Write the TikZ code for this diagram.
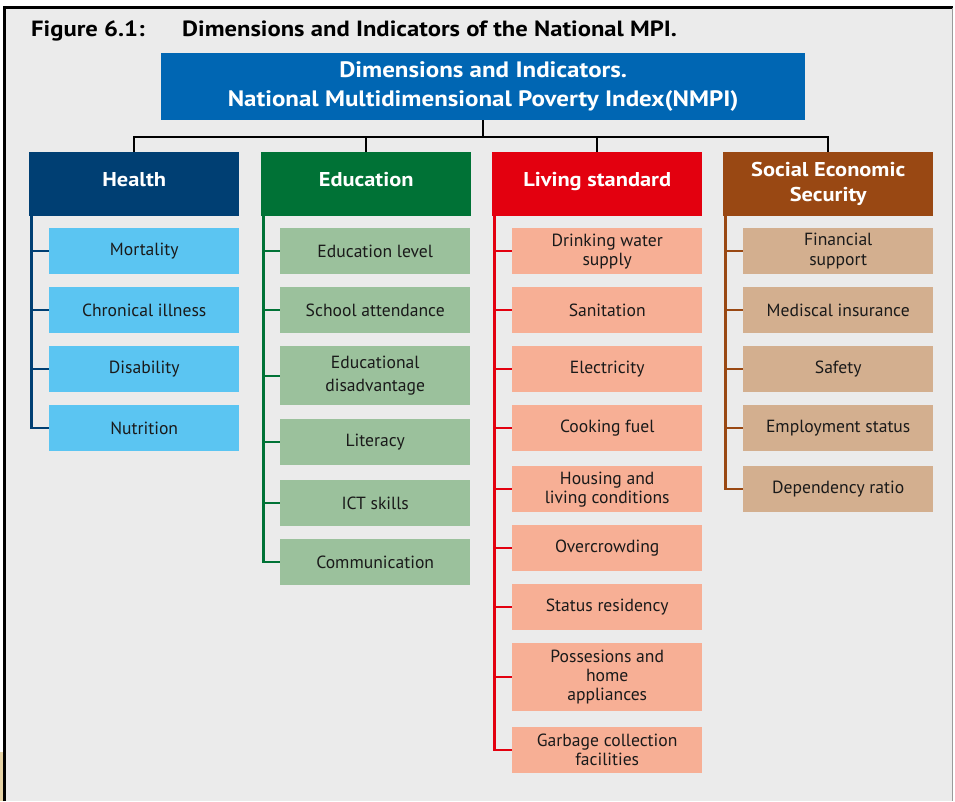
\documentclass[tikz,border=0pt]{standalone}
\usepackage{fontspec}
\setmainfont{PT Sans}[BoldFeatures={FakeStretch=1.12}]
\begin{document}
\definecolor{pagebg}{HTML}{EBEBEB}
\definecolor{cornerpatch}{HTML}{E6D3A6}
\definecolor{frameright}{HTML}{9A9A9A}
\definecolor{topblue}{HTML}{0066B3}
\definecolor{healthD}{HTML}{003F73}
\definecolor{healthL}{HTML}{5BC5F2}
\definecolor{eduD}{HTML}{007236}
\definecolor{eduL}{HTML}{9BC19C}
\definecolor{livD}{HTML}{E3000F}
\definecolor{livL}{HTML}{F7AF95}
\definecolor{socD}{HTML}{994813}
\definecolor{socL}{HTML}{D3AF8F}
\definecolor{itemtxt}{HTML}{1A1A1A}
\begin{tikzpicture}[x=1pt,y=-1pt,
  headbox/.style={anchor=north west,inner sep=0pt,minimum width=210pt,minimum height=64pt,
    text=white,align=center,font=\bfseries\fontsize{20}{25}\selectfont},
  oneline/.style={text height=14pt,text depth=9pt},
  itembox/.style={anchor=north west,inner sep=0pt,minimum width=190pt,minimum height=46pt,
    text=itemtxt,align=center,font=\fontsize{17.6}{19}\selectfont},
  bus/.style={draw=black,line width=2.4pt},
  branch/.style={line width=2.4pt}]
\useasboundingbox (0,0) rectangle (955,801);
% frame
\fill[white] (0,0) rectangle (955,801);
\fill[pagebg] (3,7) rectangle (953,801);
\fill[cornerpatch] (0,752) rectangle (3,801);
\draw[black,line width=2.5pt] (4.5,801) -- (4.5,7.5) -- (953,7.5);
\draw[frameright,line width=1.5pt] (952.5,8) -- (952.5,801);
% title
\node[anchor=base west,inner sep=0pt,font=\bfseries\fontsize{22}{25}\selectfont] (fig) at (31,36) {Figure 6.1:};
\node[anchor=base west,inner sep=0pt,font=\bfseries\fontsize{22}{25}\selectfont] (ttl) at (182,36) {Dimensions and Indicators of the National MPI.};
% root
\node[anchor=north west,inner sep=0pt,fill=topblue,minimum width=644pt,minimum height=67pt,text=white,align=center,
  font=\bfseries\fontsize{22.3}{29}\selectfont] (root) at (161,53)
  {Dimensions and Indicators.\\National Multidimensional Poverty Index(NMPI)};
% dimension headers
\node[headbox,oneline,fill=healthD] (h1) at (29,152) {Health};
\node[headbox,oneline,fill=eduD] (h2) at (261,152) {Education};
\node[headbox,oneline,fill=livD] (h3) at (492,152) {Living standard};
\node[headbox,fill=socD] (h4) at (723,152) {Social Economic\\Security};
% root to headers
\foreach \h in {h1,h2,h3,h4}
  \draw[bus] (root.south) |- ([yshift=15pt]\h.north) -- (\h.north);
% health indicators
\begin{scope}[every node/.style={itembox,fill=healthL}]
\node (a1) at (49,228) {Mortality};
\node (a2) at (49,287) {Chronical illness};
\node (a3) at (49,346) {Disability};
\node (a4) at (49,405) {Nutrition};
\end{scope}
\foreach \i in {a1,a2,a3,a4}
  \draw[branch,healthD] ([xshift=2.5pt]h1.south west) |- (\i.west);
% education indicators
\begin{scope}[every node/.style={itembox,fill=eduL}]
\node (b1) at (280,228) {Education level};
\node (b2) at (280,287) {School attendance};
\node[minimum height=59pt,font=\fontsize{17.6}{23}\selectfont] (b3) at (280,346) {Educational\\disadvantage};
\node (b4) at (280,419) {Literacy};
\node (b5) at (280,480) {ICT skills};
\node (b6) at (280,539) {Communication};
\end{scope}
\foreach \i in {b1,b2,b3,b4,b5,b6}
  \draw[branch,eduD] ([xshift=2.5pt]h2.south west) |- (\i.west);
% living standard indicators
\begin{scope}[every node/.style={itembox,fill=livL}]
\node (c1) at (512,228) {Drinking water\\supply};
\node (c2) at (512,287) {Sanitation};
\node (c3) at (512,346) {Electricity};
\node (c4) at (512,405) {Cooking fuel};
\node (c5) at (512,466) {Housing and\\living conditions};
\node (c6) at (512,525) {Overcrowding};
\node (c7) at (512,584) {Status residency};
\node[minimum height=68pt] (c8) at (512,643) {Possesions and\\home\\appliances};
\node (c9) at (512,727) {Garbage collection\\facilities};
\end{scope}
\foreach \i in {c1,c2,c3,c4,c5,c6,c7,c8,c9}
  \draw[branch,livD] ([xshift=2.5pt]h3.south west) |- (\i.west);
% social economic security indicators
\begin{scope}[every node/.style={itembox,fill=socL}]
\node[font=\fontsize{17.6}{20}\selectfont] (d1) at (743,228) {Financial\\support};
\node (d2) at (743,287) {Mediscal insurance};
\node (d3) at (743,346) {Safety};
\node (d4) at (743,405) {Employment status};
\node (d5) at (743,466) {Dependency ratio};
\end{scope}
\foreach \i in {d1,d2,d3,d4,d5}
  \draw[branch,socD] ([xshift=2.5pt]h4.south west) |- (\i.west);
\end{tikzpicture}
\end{document}
